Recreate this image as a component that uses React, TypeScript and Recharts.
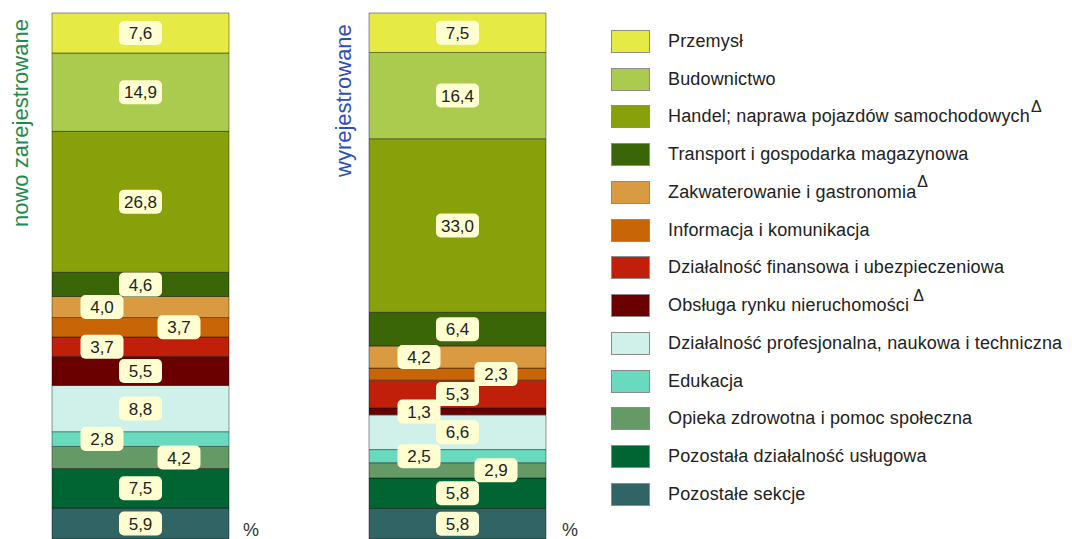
import React from 'react';
import { BarChart, Bar, XAxis, YAxis, LabelList, Legend } from 'recharts';

const sectors = [
  'Przemysł',
  'Budownictwo',
  'Handel; naprawa pojazdów samochodowych',
  'Transport i gospodarka magazynowa',
  'Zakwaterowanie i gastronomia',
  'Informacja i komunikacja',
  'Działalność finansowa i ubezpieczeniowa',
  'Obsługa rynku nieruchomości',
  'Działalność profesjonalna, naukowa i techniczna',
  'Edukacja',
  'Opieka zdrowotna i pomoc społeczna',
  'Pozostała działalność usługowa',
  'Pozostałe sekcje',
];

// sectors marked with the triangle in the legend
const flagged = [false, false, true, false, true, false, false, true, false, false, false, false, false];

const registered = [7.6, 14.9, 26.8, 4.6, 4.0, 3.7, 3.7, 5.5, 8.8, 2.8, 4.2, 7.5, 5.9];
const deregistered = [7.5, 16.4, 33.0, 6.4, 4.2, 2.3, 5.3, 1.3, 6.6, 2.5, 2.9, 5.8, 5.8];

const colors = [
  '#E5EA45', '#AACB4E', '#88A00A', '#3B6608', '#D99A42', '#C86506', '#C0200A',
  '#6B0000', '#D0F1EA', '#6ADABF', '#659A66', '#006532', '#316565',
];

// label placement inside each bar: -1 left, 0 centre, 1 right
const shiftLeft = [0, 0, 0, 0, -1, 1, -1, 0, 0, -1, 1, 0, 0];
const shiftRight = [0, 0, 0, 0, -1, 1, 0, -1, 0, -1, 1, 0, 0];

const FONT = '"Liberation Sans", Arial, sans-serif';

const toRow = (name: string, values: number[]) => {
  const row: Record<string, any> = { name };
  values.forEach((v, i) => {
    row[`s${i}`] = v;
  });
  return row;
};

const makeLabel = (shift: number) => (props: any) => {
  const { x, y, width, height, value } = props;
  const cx = Number(x) + Number(width) / 2 + shift * 38.5;
  const cy = Number(y) + Number(height) / 2;
  return (
    <g>
      <rect x={cx - 21.5} y={cy - 12} width={43} height={24} rx={5} fill="#FFFFD2" />
      <text
        x={cx}
        y={cy}
        dy="0.36em"
        textAnchor="middle"
        fontSize={17}
        fill="#222"
        fontFamily={FONT}
      >
        {Number(value).toFixed(1).replace('.', ',')}
      </text>
    </g>
  );
};

const renderBars = (shifts: number[]) =>
  sectors
    .map((_, i) => i)
    .reverse()
    .map((i) => (
      <Bar
        key={i}
        dataKey={`s${i}`}
        stackId="a"
        fill={colors[i]}
        stroke="rgba(0,0,0,0.4)"
        strokeWidth={1}
        isAnimationActive={false}
      >
        <LabelList dataKey={`s${i}`} content={makeLabel(shifts[i])} />
      </Bar>
    ));

const LegendBox = () => (
  <div
    style={{
      fontFamily: FONT,
      fontSize: 18,
      letterSpacing: 0.15,
      color: '#222',
      whiteSpace: 'nowrap',
    }}
  >
    {sectors.map((s, i) => (
      <div key={s} style={{ height: 37.75, display: 'flex', alignItems: 'center' }}>
        <div
          style={{
            width: 39,
            height: 23,
            background: colors[i],
            border: '1px solid #8c8c8c',
            boxSizing: 'border-box',
            marginRight: 18,
            flexShrink: 0,
          }}
        />
        <span>{s}</span>
        {flagged[i] && (
          <span
            style={{
              fontSize: 16,
              position: 'relative',
              top: -10,
              marginLeft: i === 7 ? 4 : 1,
            }}
          >
            Δ
          </span>
        )}
      </div>
    ))}
  </div>
);

export default function App() {
  const leftData = [toRow('nowo zarejestrowane', registered)];
  const rightData = [toRow('wyrejestrowane', deregistered)];

  return (
    <div
      style={{
        position: 'absolute',
        left: 0,
        top: 0,
        width: 1072,
        height: 539,
        overflow: 'hidden',
        background: '#fff',
      }}
    >
      <div style={{ position: 'absolute', left: 0, top: 0 }}>
        <BarChart
          width={260}
          height={539}
          data={leftData}
          margin={{ top: 13, right: 31, bottom: 0, left: 52 }}
          barCategoryGap={0}
        >
          <XAxis dataKey="name" hide />
          <YAxis type="number" domain={[0, 100]} hide />
          {renderBars(shiftLeft)}
          <text
            x={28}
            y={227}
            transform="rotate(-90 28 227)"
            fontSize={22}
            fill="#1E8A4E"
            fontFamily={FONT}
          >
            nowo zarejestrowane
          </text>
          <text x={243} y={536} fontSize={18} fill="#333" fontFamily={FONT}>
            %
          </text>
        </BarChart>
      </div>
      <div style={{ position: 'absolute', left: 316, top: 0 }}>
        <BarChart
          width={756}
          height={539}
          data={rightData}
          margin={{ top: 13, right: 526, bottom: 0, left: 53 }}
          barCategoryGap={0}
        >
          <XAxis dataKey="name" hide />
          <YAxis type="number" domain={[0, 100]} hide />
          {renderBars(shiftRight)}
          <Legend
            layout="vertical"
            align="center"
            verticalAlign="middle"
            content={() => <LegendBox />}
            wrapperStyle={{ left: 295, top: 22.6, width: 461, overflow: 'hidden' }}
          />
          <text
            x={35}
            y={177}
            transform="rotate(-90 35 177)"
            fontSize={22}
            fill="#2B50B5"
            fontFamily={FONT}
          >
            wyrejestrowane
          </text>
          <text x={246} y={536} fontSize={18} fill="#333" fontFamily={FONT}>
            %
          </text>
        </BarChart>
      </div>
    </div>
  );
}
